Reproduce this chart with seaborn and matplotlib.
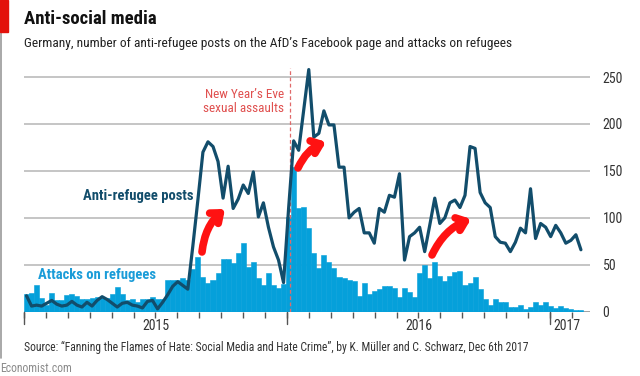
import numpy as np
import pandas as pd
import matplotlib
matplotlib.use("Agg")
import matplotlib.pyplot as plt
import matplotlib.patches as mpatches
from matplotlib import font_manager
import seaborn as sns

# ---------------- data (weekly, from first week of Jan 2015) ----------------
attacks = [19, 20, 28, 15, 7, 20, 12, 12, 18, 19,
           17, 14, 14, 15, 16, 15, 15, 19, 26, 19,
           12, 13, 10, 14, 13, 16, 13, 13, 34, 34,
           34, 36, 34, 46, 58, 37, 31, 34, 41, 56,
           56, 52, 63, 73, 48, 53, 36, 28, 41, 28,
           25, 29, 101, 154, 110, 112, 89, 63, 47, 60,
           53, 47, 37, 36, 34, 33, 17, 31, 19, 22,
           24, 27, 27, 25, 16, 25, 21, 16, 41, 50,
           36, 53, 38, 33, 38, 42, 43, 28, 31, 37,
           24, 13, 7, 13, 10, 10, 5, 5, 7, 3,
           5, 10, 7, 10, 6, 4, 6, 4, 3, 2, 2]
posts = [17, 6, 7, 6, 9, 12, 8, 6, 7, 11,
         7, 5, 10, 6, 12, 16, 13, 9, 5, 9,
         10, 7, 6, 4, 11, 12, 3, 10, 18, 27,
         32, 28, 24, 70, 119, 170, 181, 176, 160, 121,
         155, 110, 120, 135, 126, 149, 101, 116, 90, 69,
         55, 31, 110, 182, 172, 215, 258, 186, 190, 214,
         199, 199, 154, 154, 100, 106, 110, 84, 84, 73,
         110, 106, 124, 122, 147, 55, 80, 84, 90, 64,
         92, 121, 94, 100, 116, 119, 111, 124, 176, 174,
         127, 116, 111, 80, 74, 73, 64, 74, 89, 84,
         131, 78, 94, 90, 80, 92, 84, 73, 76, 82, 66]
year_labels = ["2015", "2016", "2017"]
y_ticks = [0, 50, 100, 150, 200, 250]

weeks = np.arange(len(posts)) + 0.5
df = pd.DataFrame({"week": weeks, "posts": posts, "attacks": attacks})

# ---------------- style ----------------
sns.set_theme(style="white")
avail = {f.name for f in font_manager.fontManager.ttflist}
fam = None
for cand in ["Liberation Sans Narrow", "Roboto Condensed", "Roboto", "Open Sans", "DejaVu Sans"]:
    if cand in avail:
        fam = cand
        break
plt.rcParams["font.family"] = [fam, "DejaVu Sans"]

LINE = "#124d6b"
BAR = "#05a0da"
BAR_TXT = "#1a9cd8"
RED_TXT = "#e0504f"
ARROW = "#ff1212"
GRID = "#c0c0c0"

W, H = 640, 376
fig = plt.figure(figsize=(W / 100, H / 100), dpi=100)
fig.patch.set_facecolor("white")

def fx(x):
    return x / W

def fy(y):
    return 1 - y / H

ax_l, ax_r, ax_b, ax_t = 24, 590, 311.7, 65.8
ax = fig.add_axes([fx(ax_l), fy(ax_b), fx(ax_r - ax_l), (ax_b - ax_t) / H])

WPY = 52.18
ax.set_xlim(0, 112.3)
ax.set_ylim(0, 262)

for v in y_ticks:
    ax.axhline(v, color=GRID if v else "#9a9a9a", lw=1.3, zorder=0)

sns.barplot(data=df, x="week", y="attacks", native_scale=True, width=1.0,
            color=BAR, saturation=1, linewidth=0.4, edgecolor=BAR, ax=ax, zorder=2)
sns.lineplot(data=df, x="week", y="posts", color=LINE, lw=2.3, ax=ax, zorder=4)

# dashed New Year's Eve line
ax.axvline(WPY + 0.5, ymin=0, ymax=0.99, color="#e06a6a", lw=0.9, ls=(0, (3, 2)), zorder=3)

# axes styling
for s in ax.spines.values():
    s.set_visible(False)
ax.yaxis.tick_right()
ax.set_yticks(y_ticks)
ax.set_yticklabels([str(v) for v in y_ticks], fontsize=10, color="#333333")
ax.tick_params(axis="y", length=0, pad=9)
ax.set_xlabel("")
ax.set_ylabel("")

month_ticks = [j * WPY / 12 for j in range(26)]
ax.set_xticks(month_ticks)
ax.set_xticklabels([])
ax.tick_params(axis="x", length=4.5, width=1, color="#555555", direction="out", bottom=True)
for j in (0, 12, 24):
    ax.plot([j * WPY / 12] * 2, [0, -13.5], color="#555555", lw=1, clip_on=False, zorder=5)

label_pos = [WPY / 2, WPY * 1.5, 107.7]
for lab, xp in zip(year_labels, label_pos):
    ax.text(xp, -(326 - ax_b) / (ax_b - ax_t), lab, transform=ax.get_xaxis_transform(),
            ha="center", va="center", fontsize=10, color="#333333")

# red hand-drawn style arrows
def px2d(x, y):
    return ((x - ax_l) / 5.04, (ax_b - y) / 0.938)

for (sx, sy), (ex, ey) in [((202, 252), (225, 209)), ((298, 168), (326, 142)), ((432, 255), (471, 219))]:
    ax.annotate("", xy=px2d(ex, ey), xytext=px2d(sx, sy),
                arrowprops=dict(arrowstyle="->,head_length=0.5,head_width=0.4", lw=5.5,
                                color=ARROW, connectionstyle="arc3,rad=-0.2",
                                shrinkA=0, shrinkB=0, capstyle="round", joinstyle="round"),
                zorder=6)

# labels inside the chart
fig.text(fx(284), fy(95), "New Year\u2019s Eve", ha="right", va="center", fontsize=9.5, color=RED_TXT)
fig.text(fx(284), fy(108), "sexual assaults", ha="right", va="center", fontsize=9.5, color=RED_TXT)
fig.text(fx(83), fy(196), "Anti-refugee posts", ha="left", va="center", fontsize=10.5,
         fontweight="bold", color=LINE)
fig.text(fx(38), fy(275), "Attacks on refugees", ha="left", va="center", fontsize=10.5,
         fontweight="bold", color=BAR_TXT)

# titles and footer
fig.text(fx(24), fy(19), "Anti-social media", ha="left", va="center", fontsize=13.5,
         fontweight="bold", color="#111111")
fig.text(fx(24), fy(44), "Germany, number of anti-refugee posts on the AfD\u2019s Facebook page and attacks on refugees",
         ha="left", va="center", fontsize=9.6, color="#222222")
fig.text(fx(24), fy(347),
         "Source: \u201cFanning the Flames of Hate: Social Media and Hate Crime\u201d, by K. M\u00fcller and C. Schwarz, Dec 6th 2017",
         ha="left", va="center", fontsize=8.4, color="#333333")
fig.text(fx(0), fy(369), "Economist.com", ha="left", va="center", fontsize=8.5, color="#8a8a8a")

# red tag and left border
fig.patches.append(mpatches.Rectangle((0, fy(32)), fx(8), 32 / H, transform=fig.transFigure,
                                      color="#e3120b", zorder=10))
fig.lines.append(plt.Line2D([fx(0.6), fx(0.6)], [fy(0), fy(358)], transform=fig.transFigure,
                            color="#9a9a9a", lw=1.2))

fig.savefig("out.png", dpi=100, facecolor="white")
